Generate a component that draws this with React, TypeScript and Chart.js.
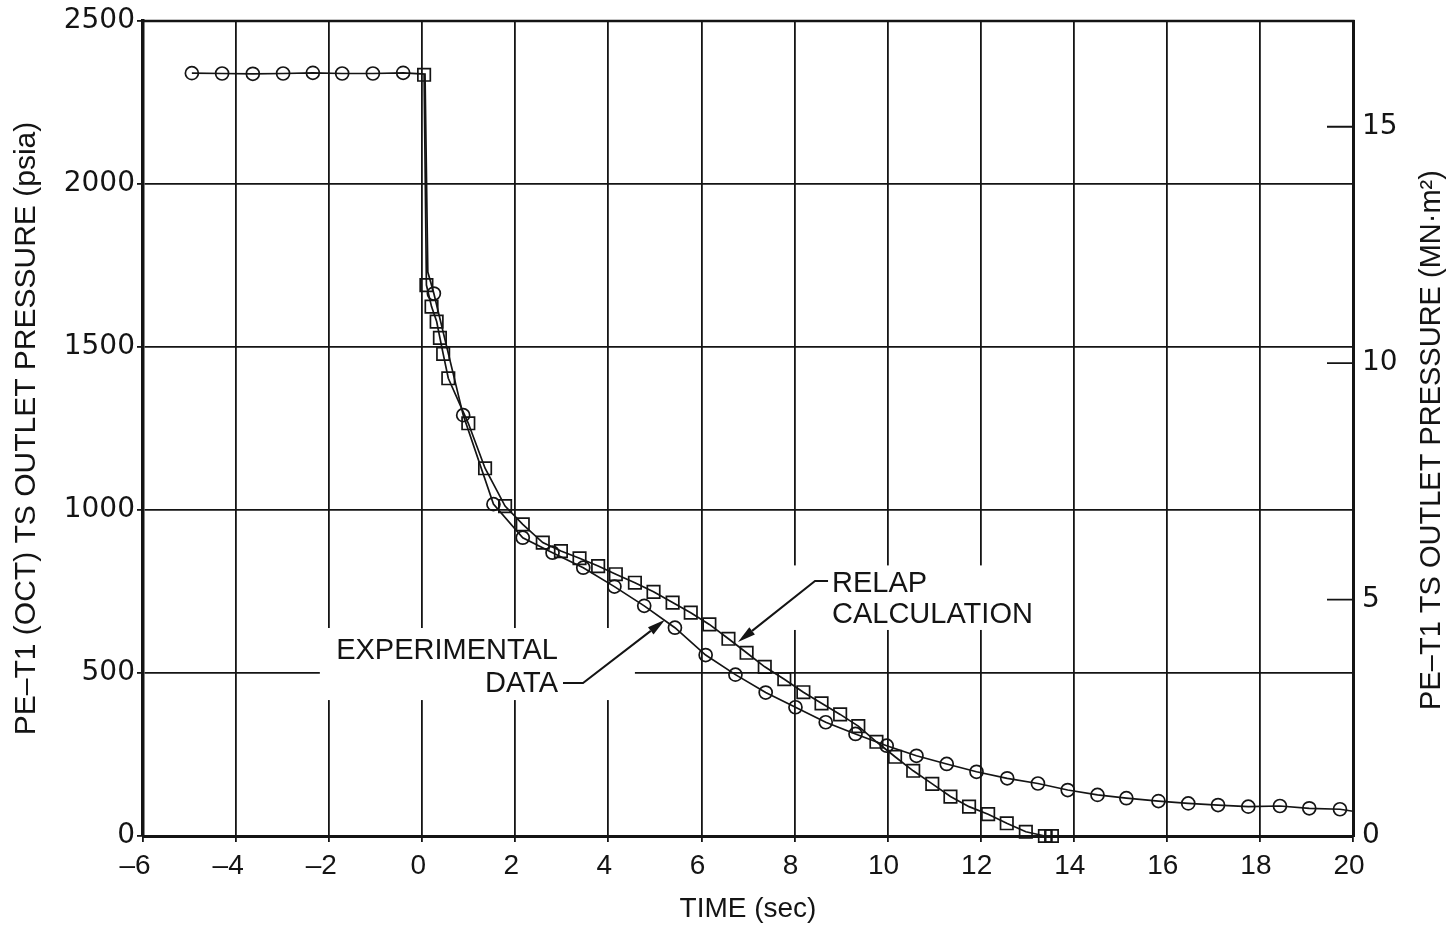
import React, { useEffect, useRef } from "react";
import { Chart, registerables } from "chart.js";

Chart.register(...registerables);

const INK = "#141414";
const SANS = '"Liberation Sans", Arial, Helvetica, sans-serif';
const WIDE = '"DejaVu Sans", Verdana, sans-serif';

// ---- axis ticks ----
const xTickValues = [-6, -4, -2, 0, 2, 4, 6, 8, 10, 12, 14, 16, 18, 20];
const xTickLabels = ["–6 ", "–4 ", "–2 ", "0", "2", "4", "6", "8", "10", "12", "14", "16", "18", "20"];
const yTickValues = [0, 500, 1000, 1500, 2000, 2500];
const yTickLabels = ["0", "500", "1000", "1500", "2000", "2500"];
const y2TickValues = [0, 5, 10, 15];
const y2TickLabels = ["0", "5", "10", "15"];
const PSI_PER_MN_M2 = 145.038;

// ---- experimental data (circles) ----
const expTime = [
  -4.95, -4.3, -3.64, -2.99, -2.35, -1.72, -1.06, -0.41,
  0.25, 0.88, 1.53, 2.16, 2.8, 3.46, 4.13, 4.77, 5.43, 6.09,
  6.73, 7.38, 8.02, 8.67, 9.31, 9.98, 10.62, 11.27, 11.91, 12.57,
  13.23, 13.87, 14.51, 15.13, 15.82, 16.46, 17.1, 17.75, 18.43, 19.06, 19.72,
];
const expPsia = [
  2340, 2339, 2338, 2339, 2341, 2339, 2339, 2341,
  1664, 1291, 1018, 915, 869, 823, 765, 706, 639, 555,
  495, 440, 395, 349, 313, 277, 246, 221, 197, 177,
  161, 141, 126, 116, 107, 100, 95, 90, 92, 85, 82,
];
// trace vertices of the experimental curve without a symbol
const expTraceTime = [0.06, 0.12, 20.0];
const expTracePsia = [2337, 1730, 76];

// ---- RELAP calculation (squares) ----
const relapTime = [
  0.04, 0.09, 0.2, 0.31, 0.38, 0.45, 0.56, 0.99, 1.35, 1.78,
  2.16, 2.59, 2.98, 3.38, 3.78, 4.16, 4.57, 4.97,
  5.38, 5.77, 6.17, 6.58, 6.97, 7.36,
  7.78, 8.19, 8.58, 8.98, 9.37, 9.76,
  10.16, 10.55, 10.96, 11.35, 11.75, 12.16, 12.56, 12.97,
];
const relapPsia = [
  2335, 1690, 1624, 1578, 1528, 1479, 1404, 1266, 1128, 1012,
  956, 900, 874, 852, 828, 803, 777, 749,
  716, 685, 649, 605, 562, 519,
  481, 441, 407, 373, 337, 289,
  243, 200, 160, 121, 90, 67, 39, 13,
];
// final crossed squares (pressure reached zero)
const relapEndTime = [13.38, 13.53];
const relapEndPsia = [0, 0];

const toPoints = (xs: number[], ys: number[]) => xs.map((x, i) => ({ x, y: ys[i] }));
const expPoints = toPoints(expTime, expPsia);
const expLine = [...expPoints, ...toPoints(expTraceTime, expTracePsia)].sort((a, b) => a.x - b.x);
const relapEndPoints = toPoints(relapEndTime, relapEndPsia);
const relapPoints = [...toPoints(relapTime, relapPsia), ...relapEndPoints];

const labelFor = (values: number[], labels: string[], v: any) => {
  const i = values.indexOf(Number(v));
  return i < 0 ? "" : labels[i];
};

function arrow(ctx: CanvasRenderingContext2D, pts: number[][]) {
  const n = pts.length;
  const [tx, ty] = pts[n - 1];
  const [px, py] = pts[n - 2];
  const ang = Math.atan2(ty - py, tx - px);
  const len = 18;
  const half = 4.5;
  const bx = tx - Math.cos(ang) * len;
  const by = ty - Math.sin(ang) * len;
  ctx.beginPath();
  ctx.moveTo(pts[0][0], pts[0][1]);
  for (let i = 1; i < n - 1; i++) ctx.lineTo(pts[i][0], pts[i][1]);
  ctx.lineTo(bx, by);
  ctx.stroke();
  ctx.beginPath();
  ctx.moveTo(tx, ty);
  ctx.lineTo(bx + Math.sin(ang) * half, by - Math.cos(ang) * half);
  ctx.lineTo(bx - Math.sin(ang) * half, by + Math.cos(ang) * half);
  ctx.closePath();
  ctx.fill();
}

const decorPlugin = {
  id: "decor",
  beforeDatasetsDraw(chart: any) {
    const { ctx, chartArea, scales } = chart;
    const X = scales.x;
    const Y = scales.y;
    const Y2 = scales.y2;
    const px = (t: number) => X.getPixelForValue(t);
    const py = (p: number) => Y.getPixelForValue(p);
    ctx.save();
    // top frame line
    ctx.strokeStyle = INK;
    ctx.lineWidth = 2.5;
    ctx.beginPath();
    ctx.moveTo(chartArea.left - 1.5, chartArea.top);
    ctx.lineTo(chartArea.right + 1.5, chartArea.top);
    ctx.stroke();
    // right-axis tick marks pointing inward
    ctx.lineWidth = 1.8;
    ctx.beginPath();
    for (const v of y2TickValues) {
      if (v === 0) continue;
      const yy = Y2.getPixelForValue(v);
      ctx.moveTo(chartArea.right - 26, yy);
      ctx.lineTo(chartArea.right, yy);
    }
    ctx.stroke();
    // white label backgrounds
    ctx.fillStyle = "#ffffff";
    const box = (t0: number, t1: number, p0: number, p1: number) => {
      const a = px(t0), b = px(t1), c = py(p1), d = py(p0);
      ctx.fillRect(a, c, b - a, d - c);
    };
    box(-2.2, 4.57, 417, 638);
    box(7.9, 13.38, 632, 830);
    // labels
    ctx.fillStyle = INK;
    ctx.font = `29px ${SANS}`;
    ctx.textBaseline = "alphabetic";
    ctx.textAlign = "right";
    ctx.fillText("EXPERIMENTAL", px(2.917), py(543));
    ctx.fillText("DATA", px(2.917), py(442));
    ctx.textAlign = "left";
    ctx.fillText("RELAP", px(8.805), py(748));
    ctx.fillText("CALCULATION", px(8.805), py(653));
    // leader arrows
    ctx.lineWidth = 2;
    arrow(ctx, [[px(3.025), py(469)], [px(3.455), py(469)], [px(5.217), py(663)]]);
    arrow(ctx, [[px(8.72), py(782)], [px(8.44), py(782)], [px(6.785), py(595)]]);
    ctx.restore();
  },
  afterDraw(chart: any) {
    const { ctx } = chart;
    ctx.save();
    ctx.fillStyle = INK;
    ctx.font = `29px ${SANS}`;
    ctx.textAlign = "center";
    ctx.textBaseline = "middle";
    ctx.translate(chart.width - 16, 440);
    ctx.rotate(-Math.PI / 2);
    ctx.fillText("PE–T1 TS OUTLET PRESSURE (MN·m²)", 0, 0);
    ctx.restore();
  },
};

const noEdgePadding = (s: any) => {
  s.paddingTop = 0;
  s.paddingBottom = 0;
  s.paddingLeft = 0;
  s.paddingRight = 0;
};

export default function App() {
  const ref = useRef<HTMLCanvasElement | null>(null);

  useEffect(() => {
    document.body.style.margin = "0";
    const canvas = ref.current;
    if (!canvas) return;
    const markerBase = {
      showLine: false,
      pointBorderWidth: 1.7,
      borderColor: INK,
      pointBorderColor: INK,
      pointBackgroundColor: "rgba(0,0,0,0)",
      clip: false,
    };
    const chart = new Chart(canvas, {
      type: "scatter",
      data: {
        datasets: [
          {
            label: "Experimental data (trace)",
            data: expLine,
            showLine: true,
            borderColor: INK,
            borderWidth: 1.7,
            pointRadius: 0,
            pointHoverRadius: 0,
            clip: false,
          } as any,
          {
            label: "RELAP calculation (trace)",
            data: relapPoints,
            showLine: true,
            borderColor: INK,
            borderWidth: 1.7,
            pointRadius: 0,
            pointHoverRadius: 0,
            clip: false,
          } as any,
          {
            ...markerBase,
            label: "Experimental data",
            data: expPoints,
            pointStyle: "circle",
            pointRadius: 6.5,
            pointHoverRadius: 6.5,
          } as any,
          {
            ...markerBase,
            label: "RELAP calculation",
            data: relapPoints,
            pointStyle: "rect",
            pointRadius: 8.8,
            pointHoverRadius: 8.8,
          } as any,
          {
            ...markerBase,
            label: "RELAP end",
            data: relapEndPoints,
            pointStyle: "cross",
            pointRadius: 6.2,
            pointHoverRadius: 6.2,
          } as any,
        ],
      },
      options: {
        animation: false,
        responsive: false,
        events: [],
        layout: { padding: { top: 21, left: 0, right: 0, bottom: 0 } },
        plugins: {
          legend: { display: false },
          tooltip: { enabled: false },
          title: { display: false },
        },
        scales: {
          x: {
            type: "linear",
            position: "bottom",
            min: -6,
            max: 20,
            afterBuildTicks: (s: any) => {
              s.ticks = xTickValues.map((v) => ({ value: v }));
            },
            afterFit: (s: any) => {
              s.height = 90;
              noEdgePadding(s);
            },
            ticks: {
              callback: (v: any) => labelFor(xTickValues, xTickLabels, v),
              font: { family: SANS, size: 28 },
              color: INK,
              padding: 7,
              labelOffset: -4,
              maxRotation: 0,
              autoSkip: false,
            },
            grid: { color: INK, lineWidth: 1.8, tickLength: 6, tickColor: INK, tickWidth: 1.8 },
            border: { display: true, color: INK, width: 3 },
            title: {
              display: true,
              text: "TIME (sec)",
              font: { family: SANS, size: 28 },
              color: INK,
              padding: { top: 0, bottom: 0 },
            },
          },
          y: {
            type: "linear",
            position: "left",
            min: 0,
            max: 2500,
            afterBuildTicks: (s: any) => {
              s.ticks = yTickValues.map((v) => ({ value: v }));
            },
            afterFit: (s: any) => {
              s.width = 143;
              noEdgePadding(s);
            },
            ticks: {
              callback: (v: any) => labelFor(yTickValues, yTickLabels, v),
              font: { family: WIDE, size: 28 },
              color: INK,
              padding: 2,
              autoSkip: false,
            },
            grid: { color: INK, lineWidth: 1.8, tickLength: 6, tickColor: INK, tickWidth: 1.8 },
            border: { display: true, color: INK, width: 3.5 },
            title: {
              display: true,
              text: "PE–T1 (OCT) TS OUTLET PRESSURE (psia)",
              font: { family: SANS, size: 30 },
              color: INK,
              padding: { top: 9, bottom: 0 },
            },
          },
          y2: {
            type: "linear",
            position: "right",
            min: 0,
            max: 2500 / PSI_PER_MN_M2,
            afterBuildTicks: (s: any) => {
              s.ticks = y2TickValues.map((v) => ({ value: v }));
            },
            afterFit: (s: any) => {
              s.width = 95;
              noEdgePadding(s);
            },
            ticks: {
              callback: (v: any) => labelFor(y2TickValues, y2TickLabels, v),
              font: { family: WIDE, size: 28 },
              color: INK,
              padding: 9,
              autoSkip: false,
            },
            grid: { drawOnChartArea: false, drawTicks: false },
            border: { display: true, color: INK, width: 3 },
          },
        },
      } as any,
      plugins: [decorPlugin],
    });
    return () => chart.destroy();
  }, []);

  return (
    <div style={{ width: 1448, height: 926, background: "#ffffff" }}>
      <canvas ref={ref} width={1448} height={926} style={{ display: "block" }} />
    </div>
  );
}
